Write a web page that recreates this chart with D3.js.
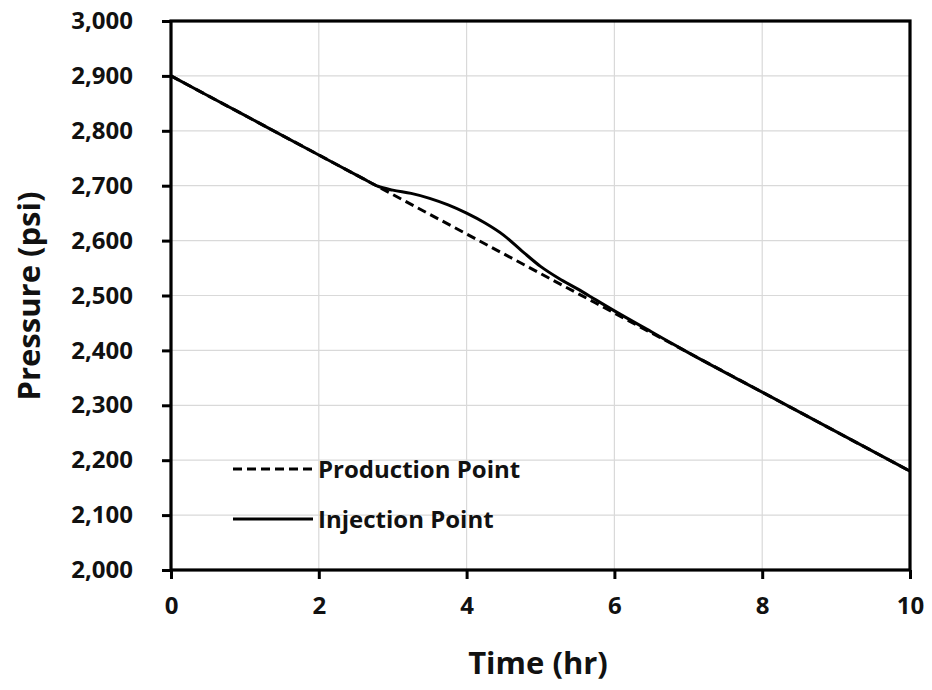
<!DOCTYPE html>
<html><head><meta charset="utf-8">
<script src="https://cdn.jsdelivr.net/npm/d3@7"></script>
<style>body{margin:0;background:#fff}svg{display:block}</style>
</head><body>
<svg id="c" width="932" height="690"></svg>
<script>
const xTicks = [0, 2, 4, 6, 8, 10];
const yTicks = [2000, 2100, 2200, 2300, 2400, 2500, 2600, 2700, 2800, 2900, 3000];
const prodTime = [0, 2, 4, 6, 8, 10];
const prodPressure = [2900, 2756, 2612, 2468, 2324, 2180];
const injTime = [0, 1, 2, 2.6, 2.8, 3, 3.25, 3.5, 3.75, 4, 4.25, 4.5, 4.75, 5, 5.25, 5.5, 5.75, 6, 6.5, 7, 8, 9, 10];
const injPressure = [2900, 2828, 2756, 2713, 2699, 2692, 2686, 2677, 2665, 2650, 2632, 2610, 2581, 2553, 2531, 2512, 2492, 2472, 2434, 2396, 2324, 2252, 2180];
const seriesNames = ["Production Point", "Injection Point"];

const font = "'Open Sans', 'Noto Sans', sans-serif";
const L = 171, R = 910, T = 21, B = 570;
const svg = d3.select("#c");
const x = d3.scaleLinear().domain([0, 10]).range([L, R]);
const y = d3.scaleLinear().domain([2000, 3000]).range([B, T]);

// gridlines
svg.append("g").selectAll("line").data(yTicks).join("line")
  .attr("x1", L).attr("x2", R).attr("y1", d => y(d)).attr("y2", d => y(d))
  .attr("stroke", "#d9d9d9").attr("stroke-width", 1.2);
svg.append("g").selectAll("line").data(xTicks).join("line")
  .attr("y1", T).attr("y2", B).attr("x1", d => x(d)).attr("x2", d => x(d))
  .attr("stroke", "#d9d9d9").attr("stroke-width", 1.2);

// axes
const yAxis = svg.append("g").attr("transform", `translate(${L},0)`)
  .call(d3.axisLeft(y).tickValues(yTicks).tickFormat(d3.format(",")).tickSize(9).tickPadding(29));
const xAxis = svg.append("g").attr("transform", `translate(0,${B})`)
  .call(d3.axisBottom(x).tickValues(xTicks).tickSize(9).tickPadding(18));
[yAxis, xAxis].forEach(g => {
  g.select(".domain").remove();
  g.selectAll(".tick line").attr("stroke", "#000").attr("stroke-width", 3);
  g.selectAll("text").attr("fill", "#111").style("font-family", font)
    .style("font-weight", "700").style("font-size", "24px");
});

// frame
svg.append("rect").attr("x", L).attr("y", T).attr("width", R - L).attr("height", B - T)
  .attr("fill", "none").attr("stroke", "#000").attr("stroke-width", 3.2);

// lines
const line = d3.line().x(d => x(d[0])).y(d => y(d[1])).curve(d3.curveMonotoneX);
const prod = d3.zip(prodTime, prodPressure);
const inj = d3.zip(injTime, injPressure);
svg.append("path").datum(prod).attr("d", line).attr("fill", "none")
  .attr("stroke", "#000").attr("stroke-width", 3).attr("stroke-dasharray", "9,5");
svg.append("path").datum(inj).attr("d", line).attr("fill", "none")
  .attr("stroke", "#000").attr("stroke-width", 3);

// legend
const leg = svg.append("g");
[[469, "9,5"], [519, null]].forEach(([ly, dash], i) => {
  const ln = leg.append("line").attr("x1", 233).attr("x2", 313).attr("y1", ly).attr("y2", ly)
    .attr("stroke", "#000").attr("stroke-width", 3);
  if (dash) ln.attr("stroke-dasharray", dash);
  leg.append("text").attr("x", 318).attr("y", ly + 9).text(seriesNames[i])
    .style("font-family", font).style("font-weight", "700").style("font-size", "24px").attr("fill", "#111");
});

// axis titles
svg.append("text").attr("x", 538).attr("y", 674).attr("text-anchor", "middle").text("Time (hr)")
  .style("font-family", font).style("font-weight", "700").style("font-size", "31px").attr("fill", "#111");
svg.append("text").attr("transform", "translate(40,296) rotate(-90)").attr("text-anchor", "middle")
  .text("Pressure (psi)")
  .style("font-family", font).style("font-weight", "700").style("font-size", "31px").attr("fill", "#111");
</script>
</body></html>
